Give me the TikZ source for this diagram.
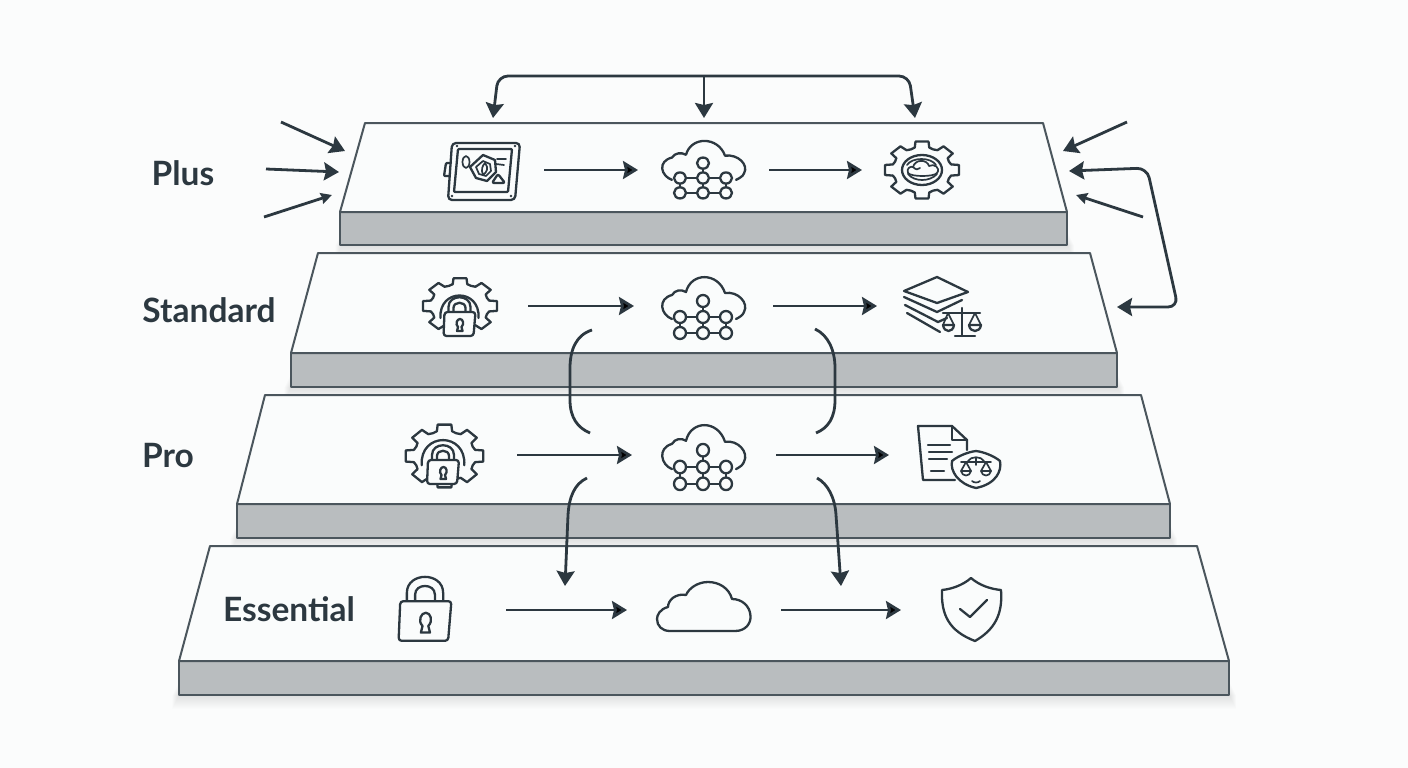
\documentclass[tikz,border=0pt]{standalone}
\usepackage{fontspec}
\setmainfont{Lato}
\usetikzlibrary{arrows.meta}

\definecolor{ink}{HTML}{2C3840}
\definecolor{edgeline}{HTML}{4B565D}
\definecolor{plateface}{HTML}{FAFCFC}
\definecolor{platefront}{HTML}{B9BDBF}
\definecolor{paper}{HTML}{FBFCFC}

\tikzset{
    iconline/.style = {draw = ink, line width = 2.3pt, line cap = round, line join = round},
    thinline/.style = {draw = ink, line width = 1.7pt, line cap = round, line join = round},
    padlock/.pic = {
        \draw[iconline, fill = plateface] (-11,-11) -- (-11,-17) .. controls (-11,-30) and (11,-30) .. (11,-17) -- (11,-11);
        \draw[iconline] (-6,-11) -- (-6,-16) .. controls (-6,-23) and (6,-23) .. (6,-16) -- (6,-11);
        \draw[iconline, fill = plateface, rounded corners = 3pt] (-15,-12) -- (16,-12) -- (14,12) -- (-16,12) -- cycle;
        \draw[iconline] (-1.5,3) -- (-2.5,7) -- (3,7) -- (2,3) .. controls (5,0) and (3.5,-5) .. (0.5,-5) .. controls (-2.5,-5) and (-4.5,0) .. (-1.5,3) -- cycle;
    },
    gearicon/.pic = {
        \foreach \a in {0,45,...,315} {
            \draw[iconline] ({\a-14}:30) -- ({\a-10}:37.5) -- ({\a+10}:37.5) -- ({\a+14}:30) -- ({\a+22.5}:29) -- ({\a+31}:30);
        }
    },
    gearlock/.pic = {
        \draw[iconline] (-19,-6) .. controls (-21,-36) and (21,-36) .. (19,-6);
        \path (0,0) pic {padlock};
    },
    gearcloud/.pic = {
        \draw[iconline] (0,0) ellipse (20pt and 15pt);
        \draw[thinline] (-15,-5) .. controls (-10,-13) and (9,-13) .. (14,-5);
        \draw[thinline, fill = plateface] (-14,3) .. controls (-16,-2) and (-11,-4) .. (-9,-3) .. controls (-7,-11) and (5,-11) .. (7,-4) .. controls (12,-7) and (19,-2) .. (15,3) .. controls (12,7) and (-11,7) .. (-14,3) -- cycle;
        \draw[thinline] (-9,-3) .. controls (-6,0) and (-4,0) .. (-2,-2);
        \draw[thinline] (-14,4) .. controls (-8,12) and (8,12) .. (15,4);
    },
    netcloud/.pic = {
        \draw[iconline] (-31,2) .. controls (-42,-2) and (-46,-18) .. (-31,-22) .. controls (-28,-27) and (-22,-28) .. (-17,-25) .. controls (-12,-45) and (15,-45) .. (22,-24) .. controls (35,-26) and (46,-14) .. (41,-5) .. controls (40,-2) and (37,0) .. (33,2);
        \draw[iconline] (-23,0) -- (23,0) (-23,16) -- (23,16) (-23,0) -- (-23,16) (0,-16) -- (0,16) (23,0) -- (23,16);
        \foreach \p in {(0,-16),(-23,0),(0,0),(23,0),(-23,16),(0,16),(23,16)} {
            \draw[iconline, fill = plateface] \p circle (6pt);
        }
    },
    plaincloud/.pic = {
        \draw[iconline] (-34,21) -- (31,21) .. controls (42,21) and (47,13) .. (46.5,6) .. controls (46,-4) and (38,-11) .. (28,-11) .. controls (25,-22) and (15,-28) .. (4,-28) .. controls (-6,-28) and (-15,-22) .. (-18,-15) .. controls (-28,-17) and (-36,-10) .. (-36,-3) .. controls (-44,-1) and (-47,5) .. (-47,9) .. controls (-47,16) and (-42,21) .. (-34,21) -- cycle;
    },
    vaulticon/.pic = {
        \draw[iconline, rounded corners = 4pt] (-30,-27) -- (38,-27) -- (33,30) -- (-34,30) -- cycle;
        \draw[iconline, rounded corners = 1pt] (-24,-21) -- (30,-21) -- (26,22) -- (-28,22) -- cycle;
        \draw[iconline, rounded corners = 1pt] (-31,-7) -- (-36,-7) -- (-38,6) -- (-33,6);
        \draw[thinline] (-16,-8) ellipse (3.5pt and 6pt);
        \draw[iconline] (1,-15) -- (13,-10) -- (14,2) -- (5,11) -- (-6,8) -- (-12,-3) -- cycle;
        \draw[thinline] (1,-9) -- (8,-6) -- (9,1) -- (4,6) -- (-3,4) -- (-6,-3) -- cycle;
        \draw[thinline] (3,-7) .. controls (7,-2) and (5,2) .. (1,5) .. controls (-1,0) and (0,-4) .. (3,-7) -- cycle;
        \draw[thinline] (15,-11) -- (24,-11) (14,-6) -- (22,-5);
        \draw[iconline, rounded corners = 2pt] (16,4) -- (23,13) -- (10,13) -- cycle;
        \foreach \p in {(-25,-24),(33,-24),(29,26),(-30,26)} {
            \fill[ink] \p circle (1.4pt);
        }
    },
    stackicon/.pic = {
        \draw[iconline] (-8,-29) -- (23,-14) -- (-8,-3) -- (-41,-15) -- cycle;
        \draw[iconline] (-41,-9) -- (-8,6) -- (17,-6);
        \draw[iconline] (-40,-1) -- (-7,16) -- (2,12);
        \draw[iconline] (-38,7) -- (-5,26);
        \draw[iconline] (17,2) -- (17,30) (10,30) -- (30,30) (-2,7) -- (35,7);
        \draw[thinline] (-2,19) -- (3,7) -- (9,19) (24,19) -- (30,7) -- (36,19);
        \draw[iconline] (-2,19) -- (9,19) .. controls (8,27) and (-1,27) .. (-2,19) -- cycle;
        \draw[iconline] (24,19) -- (36,19) .. controls (35,27) and (25,27) .. (24,19) -- cycle;
    },
    docicon/.pic = {
        \draw[iconline] (9,-5) -- (9,-15) -- (-6,-29) -- (-40,-29) -- (-35,25) -- (-3,25);
        \draw[iconline] (-6,-29) -- (-6,-15) -- (9,-15);
        \draw[iconline] (-30,-10) -- (-8,-10) (-29,-3) -- (-6,-3) (-29,4) -- (-11,4) (-27,16) -- (-14,16);
        \draw[iconline, fill = plateface] (18,-4) .. controls (26,-3) and (36,1) .. (42,6) .. controls (44,16) and (38,29) .. (18,33) .. controls (0,29) and (-8,16) .. (-6,6) .. controls (0,1) and (10,-3) .. (18,-4) -- cycle;
        \draw[thinline] (3,7) -- (33,7) (18,3) -- (18,10) (10,6) .. controls (13,1) and (23,1) .. (26,6);
        \draw[thinline] (3,16) -- (8,7) -- (13,16) -- cycle (23,16) -- (28,7) -- (33,16) -- cycle;
        \draw[thinline] (3,16) .. controls (4,22) and (12,22) .. (13,16) (23,16) .. controls (24,22) and (32,22) .. (33,16);
        \draw[thinline] (14,26) .. controls (16,28) and (20,28) .. (22,26);
    },
    shieldicon/.pic = {
        \draw[iconline] (-1,-32) .. controls (-9,-25) and (-20,-21) .. (-30,-20) .. controls (-31,5) and (-23,21) .. (3,31) .. controls (22,20) and (31,5) .. (29,-20) .. controls (18,-21) and (7,-25) .. (-1,-32) -- cycle;
        \draw[iconline] (-12,-1) -- (-2,7) -- (15,-10);
    }
}

\begin{document}
\begin{tikzpicture}[
            x = 1pt,
            y = -1pt,
            > = {Stealth[length = 15pt, width = 18pt, inset = 2pt]}, % arrow head style
            semithick % line style
        ]

        \tikzstyle{slot}=[
            inner sep = 0pt,
            outer sep = 0pt,
            minimum height = 1pt
        ]
        \tikzstyle{flow}=[
            draw = ink,
            line width = 2.8pt
        ]
        \tikzstyle{tier}=[
            text = ink,
            font = \bfseries\fontsize{33.5}{38}\selectfont,
            inner sep = 0pt
        ]

        \useasboundingbox (0,0) rectangle (1408,768);
        \fill[paper] (0,0) rectangle (1408,768);

        % soft shadows under the plates
        \foreach \l/\r/\b in {342/1067/245, 291/1117/387, 237/1170/538, 179/1229/695} {
            \foreach \s in {1,...,14} {
                \fill[black, opacity = 0.009] ({\l-0.5*\s},{\b-14+\s}) rectangle ({\r+0.5*\s},{\b+\s});
            }
        }

        % the four plates
        \foreach \tl/\tr/\ty/\ml/\mr/\my/\by in {
            210/1197/546/179/1229/661/695,
            265/1141/395/237/1170/504/538,
            318/1090/253/291/1117/353/387,
            365/1043/123/340/1067/212/245} {
            \draw[edgeline, line width = 2pt, fill = platefront, line join = round] (\ml,\my) rectangle (\mr,\by);
            \draw[edgeline, line width = 2pt, fill = plateface, line join = round] (\tl,\ty) -- (\tr,\ty) -- (\mr,\my) -- (\ml,\my) -- cycle;
        }

        \node[tier] (plus) at (183,173) {Plus};
        \node[tier] (standard) at (209,310) {Standard};
        \node[tier] (pro) at (168,456) {Pro};
        \node[tier] (essential) at (289,609) {Essential};

        % icon slots, one row per plate
        \node[slot, minimum width = 124pt] (plusa) at (482,170) {};
        \node[slot, minimum width = 131pt] (plusb) at (703.5,170) {};
        \node[slot, minimum width = 120pt] (plusc) at (922,170) {};

        \node[slot, minimum width = 136pt] (stda) at (460,306) {};
        \node[slot, minimum width = 139pt] (stdb) at (703.5,306) {};
        \node[slot, minimum width = 136pt] (stdc) at (945,306) {};

        \node[slot, minimum width = 146pt] (proa) at (444,455) {};
        \node[slot, minimum width = 144pt] (prob) at (704,455) {};
        \node[slot, minimum width = 138pt] (proc) at (958,455) {};

        \node[slot, minimum width = 162pt] (essa) at (425,610) {};
        \node[slot, minimum width = 154pt] (essb) at (704,610) {};
        \node[slot, minimum width = 142pt] (essc) at (972,610) {};

        \pic at (plusa) {vaulticon};
        \pic[yscale = 0.93] at (703,178) {netcloud};
        \pic[yscale = 0.77] at (plusc) {gearicon};
        \pic at (plusc) {gearcloud};

        \pic[yscale = 0.75] at (stda) {gearicon};
        \pic at (459.5,324) {gearlock};
        \pic at (703,317) {netcloud};
        \pic at (stdc) {stackicon};

        \pic[xscale = 1.05, yscale = 0.85] at (444.5,456) {gearicon};
        \pic[scale = 1.12] at (443,472) {gearlock};
        \pic[yscale = 1.05] at (703,467) {netcloud};
        \pic at (proc) {docicon};

        \pic[scale = 1.65] at (425,621) {padlock};
        \pic at (essb) {plaincloud};
        \pic at (essc) {shieldicon};

        \path[->, flow] (plusa) edge (plusb);
        \path[->, flow] (plusb) edge (plusc);
        \path[->, flow] (stda) edge (stdb);
        \path[->, flow] (stdb) edge (stdc);
        \path[->, flow] (proa) edge (prob);
        \path[->, flow] (prob) edge (proc);
        \path[->, flow] (essa) edge (essb);
        \path[->, flow] (essb) edge (essc);

        % free ends of the outer connectors
        \coordinate (topl) at (493,118);
        \coordinate (topc) at (704,118);
        \coordinate (topr) at (915,118);
        \coordinate (junc) at (704,76);
        \coordinate (inla) at (281,122);
        \coordinate (inlb) at (345,151);
        \coordinate (inlc) at (266,169);
        \coordinate (inld) at (339,172);
        \coordinate (inle) at (264,217);
        \coordinate (inlf) at (332,195);
        \coordinate (inra) at (1127,122);
        \coordinate (inrb) at (1063,151);
        \coordinate (inrc) at (1143,217);
        \coordinate (inrd) at (1076,195);
        \coordinate (loopa) at (1069,171);
        \coordinate (loopb) at (1117,307);
        \coordinate (brla) at (592,330);
        \coordinate (brlb) at (590,433);
        \coordinate (brra) at (815,329);
        \coordinate (brrb) at (816,433);
        \coordinate (dnla) at (587,478);
        \coordinate (dnlb) at (565,586);
        \coordinate (dnra) at (817,478);
        \coordinate (dnrb) at (841,586);

        \draw[<->, flow, rounded corners = 10pt] (topl) -- (498,76) -- (909,76) -- (topr);
        \draw[->, flow] (junc) -- (topc);

        \draw[->, flow] (inla) -- (inlb);
        \draw[->, flow] (inlc) -- (inld);
        \draw[-{Stealth[length = 11pt, width = 11pt, inset = 1pt]}, flow] (inle) -- (inlf);
        \draw[->, flow] (inra) -- (inrb);
        \draw[-{Stealth[length = 11pt, width = 11pt, inset = 1pt]}, flow] (inrc) -- (inrd);

        \draw[<->, flow, rounded corners = 10pt] (loopa) -- (1147,168) -- (1178,307) -- (loopb);

        \draw[flow] (brla) .. controls (576,335) and (570,350) .. (570,368) -- (570,400) .. controls (570,418) and (578,428) .. (brlb);
        \draw[flow] (brra) .. controls (828,335) and (835,350) .. (835,368) -- (835,400) .. controls (835,418) and (828,428) .. (brrb);
        \draw[->, flow] (dnla) .. controls (574,484) and (569,498) .. (568,515) -- (dnlb);
        \draw[->, flow] (dnra) .. controls (828,484) and (835,498) .. (836,515) -- (dnrb);

  \end{tikzpicture}
\end{document}
